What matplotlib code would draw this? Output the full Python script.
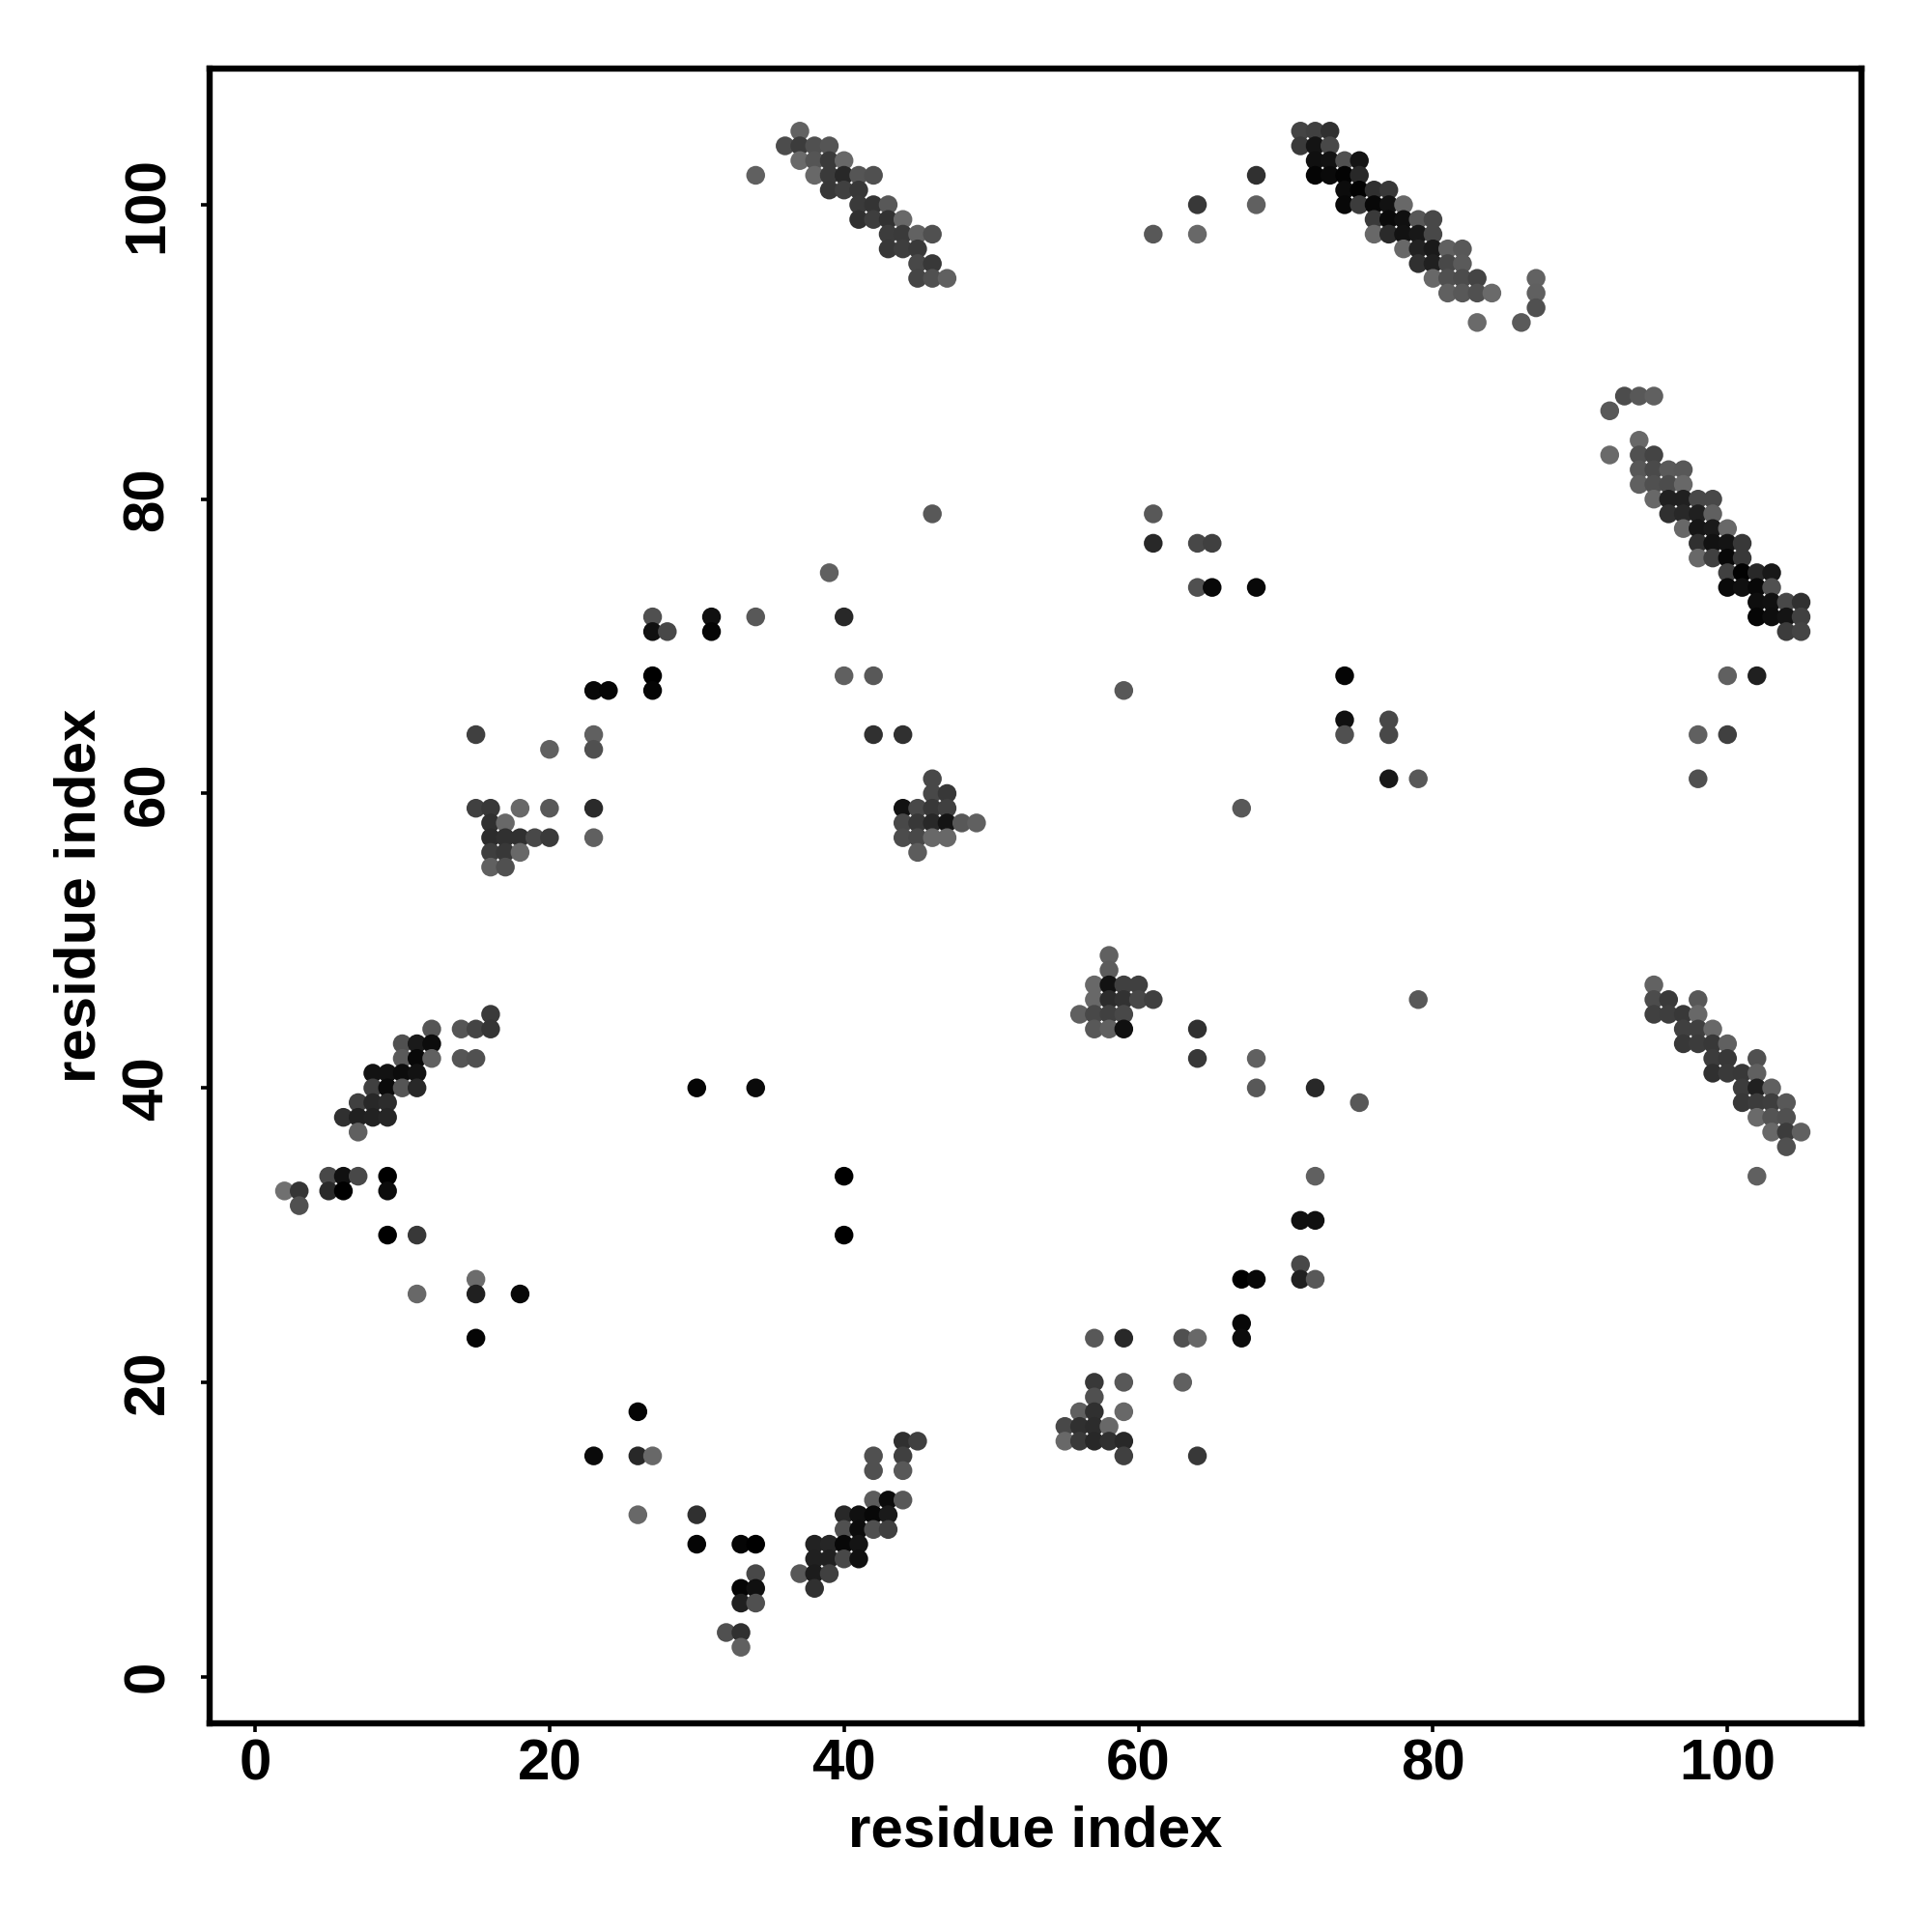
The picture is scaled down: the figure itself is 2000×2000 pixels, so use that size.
import numpy as np
import matplotlib
matplotlib.use("Agg")
import matplotlib.pyplot as plt

# contacts, grouped by region of the map (x, y, grey level 0-255)
low_left_x = [16, 12, 14, 15, 16, 10, 11, 12, 10, 11, 12, 14, 15, 8, 9, 10, 11, 8, 9, 10, 11, 7, 8, 9, 6, 7, 8, 9, 7,
              5, 6, 7, 9, 2, 3, 5, 6, 9, 3, 9, 11, 15, 11, 15, 18, 15]
low_left_y = [45, 44, 44, 44, 44, 43, 43, 43, 42, 42, 42, 42, 42, 41, 41, 41, 41, 40, 40, 40, 40, 39, 39, 39, 38, 38, 38, 38, 37,
              34, 34, 34, 34, 33, 33, 33, 33, 33, 32, 30, 30, 27, 26, 26, 26, 23]
low_left_g = [0x3a, 0x55, 0x55, 0x44, 0x35, 0x50, 0x1a, 0x0c, 0x5a, 0x08, 0x60, 0x55, 0x50, 0x12, 0x12, 0x0c, 0x12,
              0x40, 0x0a, 0x55, 0x28, 0x40, 0x28, 0x2c, 0x30, 0x20, 0x22, 0x26, 0x60,
              0x48, 0x10, 0x48, 0x00, 0x70, 0x35, 0x2a, 0x00, 0x0c, 0x50, 0x00, 0x38, 0x6c, 0x68, 0x20, 0x08, 0x05]

top_a_x = [34, 37, 36, 37, 38, 39, 37, 38, 39, 40, 38, 39, 40, 41, 42, 39, 40, 41, 41, 42, 43, 41, 42, 43, 44,
           43, 44, 45, 46, 43, 44, 45, 45, 46, 45, 46, 47]
top_a_y = [102, 105, 104, 104, 104, 104, 103, 103, 103, 103, 102, 102, 102, 102, 102, 101, 101, 101, 100, 100, 100, 99, 99, 99, 99,
           98, 98, 98, 98, 97, 97, 97, 96, 96, 95, 95, 95]
top_a_g = [0x60, 0x62, 0x4c, 0x3c, 0x50, 0x55, 0x6a, 0x55, 0x3a, 0x68, 0x68, 0x3a, 0x28, 0x55, 0x50, 0x38, 0x40, 0x38,
           0x3a, 0x34, 0x58, 0x30, 0x3e, 0x32, 0x68, 0x3c, 0x3a, 0x62, 0x50, 0x38, 0x3e, 0x3a, 0x48, 0x38, 0x45, 0x50, 0x60]

top_b_x = [71, 72, 73, 71, 72, 73, 72, 73, 74, 75, 72, 73, 74, 75, 74, 75, 76, 77, 74, 75, 76, 77, 78,
           76, 77, 78, 79, 80, 76, 77, 78, 79, 80, 78, 79, 80, 81, 82, 79, 80, 81, 82,
           80, 81, 82, 83, 87, 81, 82, 83, 84, 87, 87, 83, 86]
top_b_y = [105, 105, 105, 104, 104, 104, 103, 103, 103, 103, 102, 102, 102, 102, 101, 101, 101, 101, 100, 100, 100, 100, 100,
           99, 99, 99, 99, 99, 98, 98, 98, 98, 98, 97, 97, 97, 97, 97, 96, 96, 96, 96,
           95, 95, 95, 95, 95, 94, 94, 94, 94, 94, 93, 92, 92]
top_b_g = [0x44, 0x40, 0x30, 0x3a, 0x14, 0x48, 0x10, 0x12, 0x50, 0x14, 0x05, 0x0a, 0x03, 0x28, 0x0c, 0x02, 0x30, 0x38,
           0x08, 0x3c, 0x08, 0x12, 0x68, 0x3a, 0x0a, 0x10, 0x58, 0x48, 0x68, 0x2a, 0x12, 0x18, 0x48,
           0x68, 0x22, 0x1a, 0x60, 0x58, 0x30, 0x20, 0x48, 0x5a,
           0x68, 0x50, 0x4c, 0x44, 0x62, 0x60, 0x58, 0x50, 0x6a, 0x60, 0x50, 0x6a, 0x5a]

right_x = [93, 94, 95, 92, 94, 92, 94, 95, 94, 95, 96, 97, 94, 95, 96, 97, 95, 96, 97, 98, 99, 96, 97, 98, 99,
           97, 98, 99, 100, 98, 99, 100, 101, 98, 99, 100, 101, 100, 101, 102, 103, 100, 101, 102, 103,
           102, 103, 104, 105, 102, 103, 104, 105, 104, 105]
right_y = [87, 87, 87, 86, 84, 83, 83, 83, 82, 82, 82, 82, 81, 81, 81, 81, 80, 80, 80, 80, 80, 79, 79, 79, 79,
           78, 78, 78, 78, 77, 77, 77, 77, 76, 76, 76, 76, 75, 75, 75, 75, 74, 74, 74, 74,
           73, 73, 73, 73, 72, 72, 72, 72, 71, 71]
right_g = [0x4c, 0x58, 0x60, 0x58, 0x68, 0x6a, 0x50, 0x44, 0x58, 0x4a, 0x5a, 0x58, 0x60, 0x50, 0x4c, 0x68,
           0x68, 0x20, 0x20, 0x48, 0x48, 0x30, 0x28, 0x20, 0x60, 0x68, 0x16, 0x1a, 0x68,
           0x30, 0x12, 0x14, 0x38, 0x68, 0x40, 0x08, 0x38, 0x40, 0x02, 0x28, 0x18, 0x0a, 0x10, 0x08, 0x50,
           0x0e, 0x10, 0x48, 0x30, 0x06, 0x0e, 0x14, 0x40, 0x3c, 0x44]

low_right_x = [95, 95, 96, 98, 95, 96, 97, 98, 97, 98, 99, 97, 98, 99, 100, 99, 100, 102, 99, 100, 101, 102,
               101, 102, 103, 101, 102, 103, 104, 102, 103, 104, 103, 104, 105, 104, 102]
low_right_y = [47, 46, 46, 46, 45, 45, 45, 45, 44, 44, 44, 43, 43, 43, 43, 42, 42, 42, 41, 41, 41, 41,
               40, 40, 40, 39, 39, 39, 39, 38, 38, 38, 37, 37, 37, 36, 34]
low_right_g = [0x62, 0x4c, 0x3a, 0x58, 0x40, 0x3e, 0x38, 0x68, 0x40, 0x40, 0x68, 0x38, 0x3c, 0x38, 0x60,
               0x3c, 0x38, 0x50, 0x30, 0x3a, 0x38, 0x60, 0x3c, 0x20, 0x60, 0x38, 0x3c, 0x3e, 0x58,
               0x6a, 0x54, 0x50, 0x68, 0x3c, 0x60, 0x50, 0x60]

bottom_x = [44, 45, 42, 44, 42, 44, 42, 43, 44, 40, 41, 42, 43, 40, 41, 42, 43, 38, 39, 40, 41, 38, 39, 40, 41,
            37, 38, 39, 38, 33, 34, 34, 33, 34, 33, 34, 32, 33, 33, 30, 30, 26, 23, 26, 27, 26]
bottom_y = [16, 16, 15, 15, 14, 14, 12, 12, 12, 11, 11, 11, 11, 10, 10, 10, 10, 9, 9, 9, 9, 8, 8, 8, 8,
            7, 7, 7, 6, 9, 9, 7, 6, 6, 5, 5, 3, 3, 2, 11, 9, 11, 15, 15, 15, 18]
bottom_g = [0x30, 0x40, 0x50, 0x40, 0x50, 0x58, 0x5c, 0x0c, 0x58, 0x28, 0x10, 0x08, 0x1a, 0x50, 0x0c, 0x50, 0x40,
            0x22, 0x26, 0x08, 0x14, 0x20, 0x20, 0x48, 0x10, 0x58, 0x1c, 0x40, 0x30,
            0x05, 0x00, 0x48, 0x05, 0x10, 0x20, 0x50, 0x50, 0x30, 0x60, 0x30, 0x05, 0x68, 0x0a, 0x28, 0x68, 0x05]

blob_a_x = [15, 16, 18, 20, 23, 16, 17, 16, 17, 18, 19, 20, 23, 16, 17, 18, 16, 17]
blob_a_y = [59, 59, 59, 59, 59, 58, 58, 57, 57, 57, 57, 57, 57, 56, 56, 56, 55, 55]
blob_a_g = [0x40, 0x38, 0x68, 0x58, 0x2a, 0x30, 0x68, 0x2c, 0x30, 0x30, 0x48, 0x3a, 0x60, 0x3e, 0x38, 0x68, 0x60, 0x50]

blob_b_x = [46, 46, 47, 44, 45, 46, 47, 44, 45, 46, 47, 48, 49, 44, 45, 46, 47, 45]
blob_b_y = [61, 60, 60, 59, 59, 59, 59, 58, 58, 58, 58, 58, 58, 57, 57, 57, 57, 56]
blob_b_g = [0x48, 0x48, 0x38, 0x12, 0x48, 0x38, 0x40, 0x48, 0x38, 0x28, 0x14, 0x58, 0x60, 0x4c, 0x48, 0x68, 0x68, 0x5c]

blob_c_x = [58, 58, 57, 58, 59, 60, 57, 58, 59, 60, 61, 56, 57, 58, 59, 57, 58, 59]
blob_c_y = [49, 48, 47, 47, 47, 47, 46, 46, 46, 46, 46, 45, 45, 45, 45, 44, 44, 44]
blob_c_g = [0x60, 0x5c, 0x68, 0x12, 0x40, 0x40, 0x68, 0x2c, 0x32, 0x48, 0x40, 0x60, 0x48, 0x40, 0x48, 0x58, 0x60, 0x10]

blob_d_x = [57, 59, 57, 56, 57, 59, 55, 56, 57, 58, 55, 56, 57, 58, 59, 59]
blob_d_y = [20, 20, 19, 18, 18, 18, 17, 17, 17, 17, 16, 16, 16, 16, 16, 15]
blob_d_g = [0x38, 0x58, 0x50, 0x60, 0x30, 0x68, 0x48, 0x30, 0x2c, 0x68, 0x68, 0x3a, 0x28, 0x30, 0x28, 0x40]

upper_mid_x = [61, 64, 64, 68, 68, 46, 61, 61, 64, 65, 64, 65, 68, 39, 27, 31, 34, 40, 27, 28, 31, 27, 27, 23, 24,
               40, 42, 42, 44, 15, 23, 23, 20, 59, 67]
upper_mid_y = [98, 100, 98, 102, 100, 79, 79, 77, 77, 77, 74, 74, 74, 75, 72, 72, 72, 72, 71, 71, 71, 68, 67, 67, 67,
               68, 68, 64, 64, 64, 64, 63, 63, 67, 59]
upper_mid_g = [0x58, 0x38, 0x68, 0x30, 0x60, 0x58, 0x58, 0x28, 0x48, 0x40, 0x50, 0x08, 0x08, 0x60,
               0x50, 0x10, 0x58, 0x28, 0x10, 0x48, 0x05, 0x00, 0x05, 0x08, 0x05,
               0x60, 0x58, 0x30, 0x30, 0x40, 0x60, 0x50, 0x60, 0x58, 0x58]

right_mid_x = [74, 74, 74, 77, 77, 77, 79, 100, 102, 98, 100, 98, 79]
right_mid_y = [68, 65, 64, 65, 64, 61, 61, 68, 68, 64, 64, 61, 46]
right_mid_g = [0x05, 0x10, 0x50, 0x48, 0x48, 0x18, 0x58, 0x60, 0x20, 0x60, 0x40, 0x50, 0x58]

lower_mid_x = [64, 64, 68, 68, 72, 75, 30, 34, 40, 40, 72, 71, 72, 71, 71, 72, 67, 68, 67, 67, 57, 59, 63, 64, 63, 64]
lower_mid_y = [44, 42, 42, 40, 40, 39, 40, 40, 34, 30, 34, 31, 31, 28, 27, 27, 27, 27, 24, 23, 23, 23, 23, 23, 20, 15]
lower_mid_g = [0x30, 0x38, 0x60, 0x58, 0x28, 0x58, 0x05, 0x0a, 0x00, 0x00, 0x60, 0x10, 0x10, 0x48, 0x20, 0x58,
               0x00, 0x08, 0x08, 0x0c, 0x58, 0x28, 0x50, 0x68, 0x60, 0x38]

ticks = [0, 20, 40, 60, 80, 100]

plt.rcParams['font.family'] = ['Liberation Sans', 'DejaVu Sans']
plt.rcParams['font.weight'] = 'bold'

fig = plt.figure(figsize=(10, 10), dpi=200)
ax = fig.add_axes([216.5 / 2000, 1 - 1784 / 2000, (1927 - 216.5) / 2000, (1784 - 71) / 2000])

all_x = low_left_x + top_a_x + top_b_x + right_x + low_right_x + bottom_x + blob_a_x + blob_b_x + blob_c_x + blob_d_x + upper_mid_x + right_mid_x + lower_mid_x
all_y = low_left_y + top_a_y + top_b_y + right_y + low_right_y + bottom_y + blob_a_y + blob_b_y + blob_c_y + blob_d_y + upper_mid_y + right_mid_y + lower_mid_y
all_g = low_left_g + top_a_g + top_b_g + right_g + low_right_g + bottom_g + blob_a_g + blob_b_g + blob_c_g + blob_d_g + upper_mid_g + right_mid_g + lower_mid_g

shades = np.array(all_g) / 255
ax.scatter(all_x, all_y, s=49, c=np.column_stack([shades, shades, shades]), linewidths=0, zorder=3)

ax.set_xlim(-3.117, 109.1)
ax.set_ylim(-3.17, 109.25)
ax.set_xticks(ticks)
ax.set_yticks(ticks)
ax.tick_params(length=3.2, width=1.3, labelsize=21.6)
ax.tick_params(axis='x', pad=2.3)
ax.tick_params(axis='y', pad=9.6)
for lab in ax.get_yticklabels():
    lab.set_rotation(90)
    lab.set_va('center')
for sp in ax.spines.values():
    sp.set_linewidth(2.3)

ax.set_xlabel('residue index', fontsize=21.6, fontweight='bold', labelpad=5.0)
ax.set_ylabel('residue index', fontsize=21.6, fontweight='bold', labelpad=5.4)

fig.savefig('out.png', dpi=200)
